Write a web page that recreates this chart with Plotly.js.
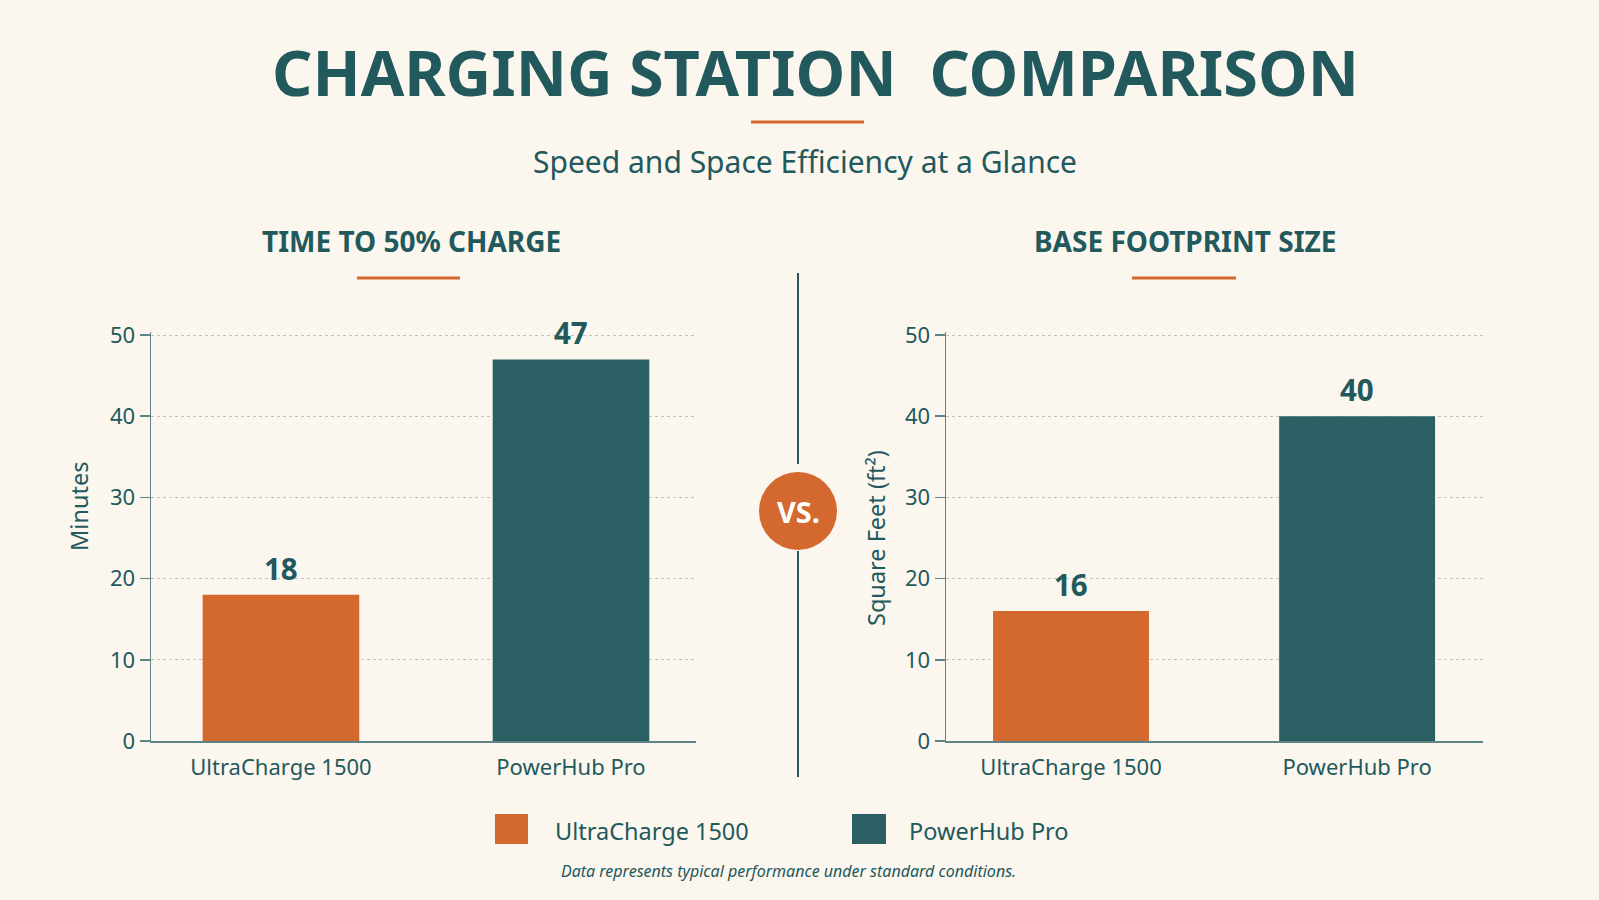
<!DOCTYPE html>
<html>
<head>
<meta charset="utf-8">
<script src="https://cdn.plot.ly/plotly-3.0.1.min.js"></script>
<style>
  html, body { margin: 0; padding: 0; background: #fbf6ee; }
  #chart { width: 1599px; height: 900px; }
</style>
</head>
<body>
<div id="chart"></div>
<script>
// Station names and the two measured quantities
const categories = ['UltraCharge 1500', 'PowerHub Pro'];
const chargeMinutes = [18, 47];      // time to 50% charge
const footprintSqFt = [16, 40];      // base footprint
const yTickValues = [0, 10, 20, 30, 40, 50];

const ORANGE = '#d4692f';
const TEAL = '#2a6063';
const INK = '#22595c';
const BG = '#fbf6ee';
const FONT = "'Noto Sans', 'Open Sans', sans-serif";
const barColors = [ORANGE, TEAL];

function px(x) { return x / 1599; }
function py(y) { return 1 - y / 900; }

const traces = [
  {
    type: 'bar', x: categories, y: chargeMinutes, xaxis: 'x', yaxis: 'y',
    marker: { color: barColors }, width: 0.54, hoverinfo: 'x+y', showlegend: false
  },
  {
    type: 'bar', x: categories, y: footprintSqFt, xaxis: 'x2', yaxis: 'y2',
    marker: { color: barColors }, width: 0.545, hoverinfo: 'x+y', showlegend: false
  }
];

// range topped slightly above 50 so the 50 gridline is kept
function yAxis(domainAnchor) {
  return {
    domain: [py(741), py(331.8)], range: [0, 50.4], anchor: domainAnchor,
    tickvals: yTickValues, ticks: 'outside', ticklen: 10, tickcolor: '#5d8587', tickwidth: 1.5,
    showline: true, linecolor: '#5d8587', linewidth: 1.5,
    showgrid: true, gridcolor: '#c6c2ba', griddash: 'dot', gridwidth: 1,
    zeroline: false, tickfont: { family: FONT, size: 22, color: INK },
    fixedrange: true
  };
}
function xAxis(dom, rng, yAnchor) {
  return {
    domain: dom, range: rng, anchor: yAnchor, type: 'category',
    showline: true, linecolor: '#5d8587', linewidth: 1.5, ticks: '',
    showgrid: false, ticklabelstandoff: 6,
    tickfont: { family: FONT, size: 22, color: INK }, fixedrange: true
  };
}

const annotations = [];
function txt(x, y, text, size, opts) {
  annotations.push(Object.assign({
    xref: 'paper', yref: 'paper', x: x, y: y, text: text, showarrow: false,
    xanchor: 'center', yanchor: 'middle',
    font: { family: FONT, size: size, color: INK }
  }, opts || {}));
}

// Headline block
txt(px(815), py(71), 'CHARGING STATION  COMPARISON', 63, { font: { family: FONT, size: 63, color: INK, weight: 700 } });
txt(px(805), py(161), 'Speed and Space Efficiency at a Glance', 30);
txt(px(412), py(241), 'TIME TO 50% CHARGE', 28, { font: { family: FONT, size: 28, color: INK, weight: 700 } });
txt(px(1185), py(241), 'BASE FOOTPRINT SIZE', 28, { font: { family: FONT, size: 28, color: INK, weight: 700 } });

// Axis titles
txt(px(79), py(507), 'Minutes', 23.5, { textangle: -90 });
txt(px(876), py(538), 'Square Feet (ft²)', 23.5, { textangle: -90 });

// Value labels above each bar
categories.forEach((c, i) => {
  annotations.push({ xref: 'x', yref: 'y', x: c, y: chargeMinutes[i], text: String(chargeMinutes[i]),
    showarrow: false, yanchor: 'bottom', yshift: 4,
    font: { family: FONT, size: 29.5, color: INK, weight: 700 } });
  annotations.push({ xref: 'x2', yref: 'y2', x: c, y: footprintSqFt[i], text: String(footprintSqFt[i]),
    showarrow: false, yanchor: 'bottom', yshift: 4,
    font: { family: FONT, size: 29.5, color: INK, weight: 700 } });
});

// VS badge text
txt(px(798), py(511), 'VS.', 29, { font: { family: FONT, size: 29, color: '#ffffff', weight: 700 } });

// Legend labels
txt(px(553), py(831), categories[0], 23.5, { xanchor: 'left' });
txt(px(907), py(831), categories[1], 23.5, { xanchor: 'left' });

// Footnote
txt(px(788), py(871), 'Data represents typical performance under standard conditions.', 16,
  { font: { family: FONT, size: 16, color: INK, style: 'italic' } });

const shapes = [
  // accent rules under headings
  { type: 'line', xref: 'paper', yref: 'paper', x0: px(751), x1: px(864), y0: py(122), y1: py(122), line: { color: ORANGE, width: 3 } },
  { type: 'line', xref: 'paper', yref: 'paper', x0: px(357), x1: px(460), y0: py(278), y1: py(278), line: { color: ORANGE, width: 3 } },
  { type: 'line', xref: 'paper', yref: 'paper', x0: px(1132), x1: px(1236), y0: py(278), y1: py(278), line: { color: ORANGE, width: 3 } },
  // divider between panels
  { type: 'line', xref: 'paper', yref: 'paper', x0: px(798), x1: px(798), y0: py(273), y1: py(464), line: { color: '#2d5558', width: 2 } },
  { type: 'line', xref: 'paper', yref: 'paper', x0: px(798), x1: px(798), y0: py(551), y1: py(777), line: { color: '#2d5558', width: 2 } },
  // VS badge
  { type: 'circle', xref: 'paper', yref: 'paper', xsizemode: 'pixel', ysizemode: 'pixel',
    xanchor: px(798), yanchor: py(511), x0: -39, x1: 39, y0: -39, y1: 39,
    fillcolor: ORANGE, line: { width: 0 } },
  // legend swatches
  { type: 'rect', xref: 'paper', yref: 'paper', x0: px(495), x1: px(528), y0: py(844), y1: py(814), fillcolor: ORANGE, line: { width: 0 } },
  { type: 'rect', xref: 'paper', yref: 'paper', x0: px(852), x1: px(886), y0: py(844), y1: py(814), fillcolor: TEAL, line: { width: 0 } }
];

const layout = {
  width: 1599, height: 900,
  margin: { l: 0, r: 0, t: 0, b: 0 },
  paper_bgcolor: BG, plot_bgcolor: BG,
  showlegend: false,
  xaxis: xAxis([px(151), px(696)], [-0.448, 1.431], 'y'),
  yaxis: yAxis('x'),
  xaxis2: xAxis([px(946), px(1483)], [-0.437, 1.44], 'y2'),
  yaxis2: yAxis('x2'),
  annotations: annotations,
  shapes: shapes,
  bargap: 0.4
};

Plotly.newPlot('chart', traces, layout, { displayModeBar: false, staticPlot: true });
</script>
</body>
</html>
